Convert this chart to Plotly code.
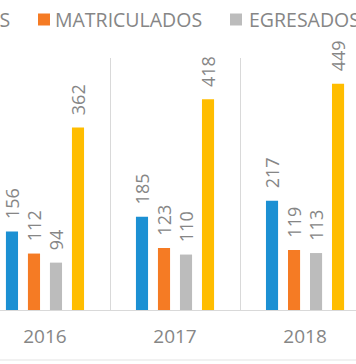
import plotly.graph_objects as go

years = ["2016", "2017", "2018"]
series_names = ["INGRESANTES", "MATRICULADOS", "EGRESADOS", "POSTULANTES"]
ingresantes = [156, 185, 217]
matriculados = [112, 123, 119]
egresados = [94, 110, 113]
postulantes = [362, 418, 449]
colors = ["#1C90D3", "#F57B24", "#BCBCBC", "#FFBD00"]

values = [ingresantes, matriculados, egresados, postulantes]
label_color = "#868686"
font_family = "Open Sans, Liberation Sans, sans-serif"

W, H = 356, 364
M_T, M_B = 58, 54
PH = H - M_T - M_B

fig = go.Figure()
for name, vals, col in zip(series_names, values, colors):
    fig.add_trace(go.Bar(
        x=years, y=vals, name=name,
        marker=dict(color=col, line=dict(width=0)),
        texttemplate="\u00a0\u00a0%{y}",
        textposition="outside",
        textangle=-90,
        constraintext="none",
        cliponaxis=False,
        textfont=dict(family=font_family, size=18, color=label_color),
    ))

# manual legend (horizontal, partially outside the visible area as in the reference)
def py(pix):
    return 1 + (M_T - pix) / PH

legend_text_x = [12, 53, 247, 380]      # pixel anchors
legend_anchor = ["right", "left", "left", "left"]
legend_sq_x = [-150, 38, 230, 362]
annotations = []
shapes = []
for name, col, tx, anc, sx in zip(series_names, colors, legend_text_x, legend_anchor, legend_sq_x):
    annotations.append(dict(
        text=name, xref="paper", yref="paper", x=tx / W, y=py(19.5),
        xanchor=anc, yanchor="middle", showarrow=False,
        font=dict(family=font_family, size=19.5, color=label_color)))
    shapes.append(dict(type="rect", xref="paper", yref="paper",
                       x0=sx / W, x1=(sx + 12) / W, y0=py(25.5), y1=py(13.5),
                       fillcolor=col, line=dict(width=0)))

shapes.append(dict(type="line", xref="paper", yref="paper", x0=0, x1=1,
                   y0=py(360), y1=py(360), line=dict(color="#E3E3E3", width=1)))

fig.update_layout(
    width=W, height=H,
    margin=dict(l=0, r=0, t=M_T, b=M_B, autoexpand=False),
    paper_bgcolor="white", plot_bgcolor="white",
    barmode="group", bargap=0.323, bargroupgap=0.45,
    font=dict(family=font_family, color=label_color),
    showlegend=False,
    xaxis=dict(
        type="category", range=[-0.346, 2.392],
        tickson="boundaries", showgrid=True, gridcolor="#D9D9D9", gridwidth=1,
        showline=True, linecolor="#D9D9D9", linewidth=1,
        ticks="", tickfont=dict(family=font_family, size=19, color=label_color),
        ticklabelstandoff=9, zeroline=False,
    ),
    yaxis=dict(range=[0, 500], visible=False, showgrid=False, zeroline=False),
    annotations=annotations,
    shapes=shapes,
)

fig.write_html("out.html", config={"displayModeBar": False},
               post_script="document.body.style.margin='0';")
